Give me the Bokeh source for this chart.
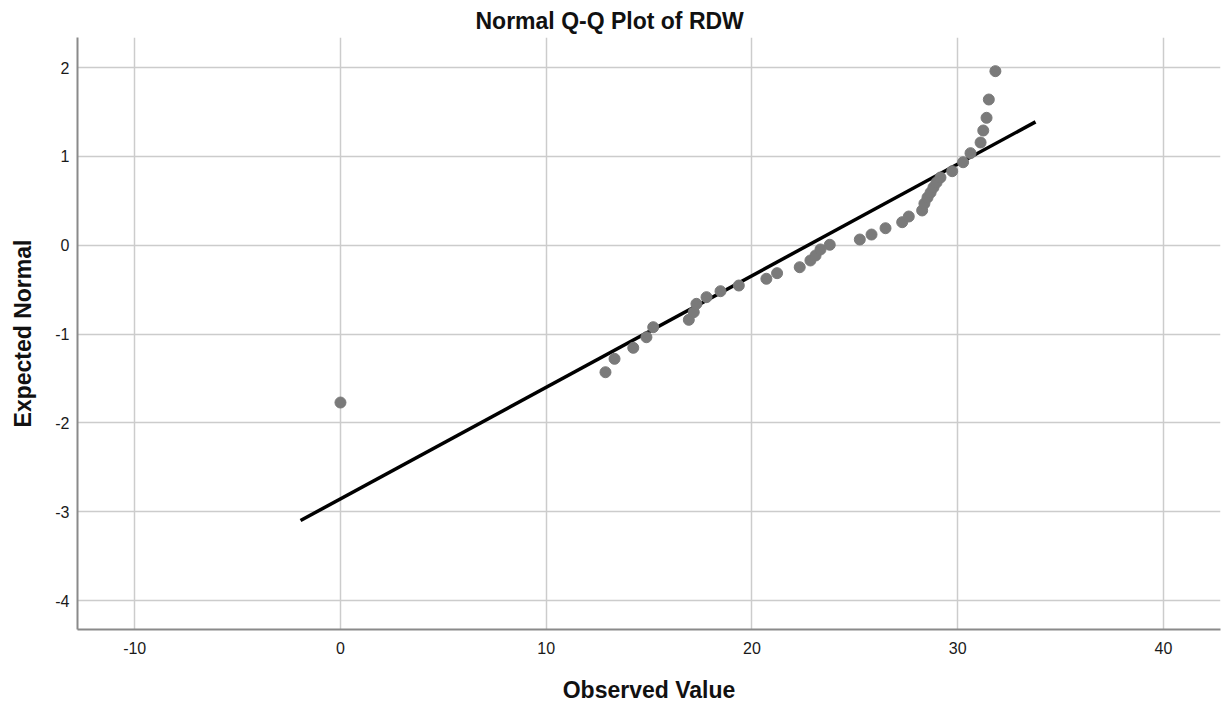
from bokeh.plotting import figure
from bokeh.models import FixedTicker, ColumnDataSource, PrintfTickFormatter
from bokeh.embed import file_html
from bokeh.resources import INLINE

# Data
observed_value = [0.00, 12.88, 13.32, 14.23, 14.87, 15.20, 16.93, 17.17, 17.30, 17.79,
                  18.47, 19.36, 20.70, 21.22, 22.32, 22.84, 23.09, 23.33, 23.78, 25.24,
                  25.81, 26.49, 27.30, 27.62, 28.27, 28.38, 28.53, 28.68, 28.82, 28.97,
                  29.16, 29.73, 30.26, 30.62, 31.11, 31.24, 31.40, 31.51, 31.83]
expected_normal = [-1.771, -1.430, -1.279, -1.155, -1.036, -0.923, -0.840, -0.754, -0.660, -0.585,
                   -0.518, -0.454, -0.378, -0.315, -0.248, -0.172, -0.116, -0.048, 0.005, 0.064,
                   0.120, 0.191, 0.259, 0.323, 0.391, 0.469, 0.537, 0.593, 0.650, 0.706,
                   0.762, 0.833, 0.934, 1.036, 1.156, 1.291, 1.434, 1.640, 1.959]

# Reference line: expected = (x - mean) / sd
rdw_mean = 22.73
rdw_sd = 7.96
line_x = [-1.94, 33.78]
line_y = [(v - rdw_mean) / rdw_sd for v in line_x]

x_ticks = [-10, 0, 10, 20, 30, 40]
y_ticks = [-4, -3, -2, -1, 0, 1, 2]

FONT = "Liberation Sans"

p = figure(frame_width=1143, frame_height=592,
           x_range=(-12.78, 42.77), y_range=(-4.326, 2.338),
           output_backend="svg", toolbar_location=None,
           min_border_left=77, min_border_right=1, min_border_top=37, min_border_bottom=64,
           title="Normal Q-Q Plot of RDW")
p.outline_line_color = None
p.background_fill_color = "white"
p.border_fill_color = "white"

p.title.align = "left"
p.title.offset = 398
p.title.text_font = FONT
p.title.text_font_size = "23px"
p.title.text_font_style = "bold"
p.title.text_color = "#111111"
p.title.standoff = 8

# grids
for g in (p.xgrid, p.ygrid):
    g.grid_line_color = "#cccccc"
    g.grid_line_width = 1.5
p.xgrid.ticker = FixedTicker(ticks=x_ticks)
p.ygrid.ticker = FixedTicker(ticks=y_ticks)

for ax in (p.xaxis, p.yaxis):
    ax.axis_line_color = "#8a8a8a"
    ax.axis_line_width = 2
    ax.major_tick_line_color = None
    ax.minor_tick_line_color = None
    ax.major_label_text_font = FONT
    ax.major_label_text_font_size = "16px"
    ax.major_label_text_color = "#1a1a1a"
    ax.axis_label_text_font = FONT
    ax.axis_label_text_font_size = "23px"
    ax.axis_label_text_font_style = "bold"
    ax.axis_label_text_color = "#111111"
    ax.formatter = PrintfTickFormatter(format="%d")

p.xaxis.ticker = FixedTicker(ticks=x_ticks)
p.yaxis.ticker = FixedTicker(ticks=y_ticks)
p.xaxis.axis_label = "Observed Value"
p.yaxis.axis_label = "Expected Normal"
p.xaxis.major_label_standoff = 6
p.yaxis.major_label_standoff = 2
p.xaxis.axis_label_standoff = 20
p.yaxis.axis_label_standoff = 16

src = ColumnDataSource(data=dict(x=observed_value, y=expected_normal))
p.line(line_x, line_y, line_color="black", line_width=3.5)
p.scatter("x", "y", source=src, size=11, fill_color="#7a7a7a", line_color="#7a7a7a")

open("out.html", "w").write(file_html(p, INLINE))
